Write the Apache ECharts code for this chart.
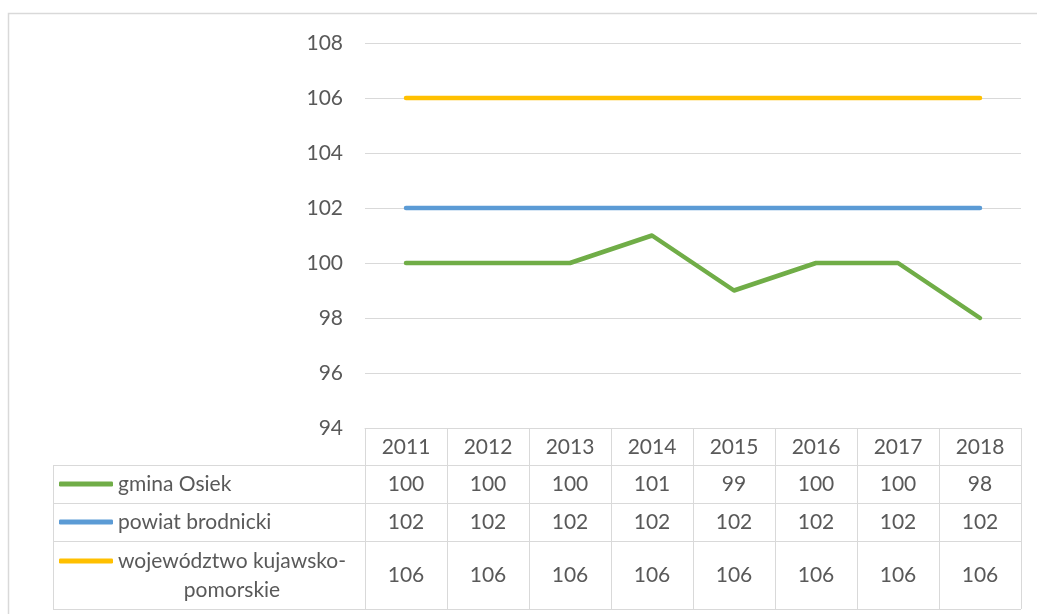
<!DOCTYPE html>
<html>
<head>
<meta charset="utf-8">
<script src="https://cdn.jsdelivr.net/npm/echarts@6/dist/echarts.min.js"></script>
<style>
  html, body { margin: 0; padding: 0; background: #fff; }
  #chart { width: 1037px; height: 614px; }
</style>
</head>
<body>
<div id="chart"></div>
<script>
// dane
const years = ['2011', '2012', '2013', '2014', '2015', '2016', '2017', '2018'];
const gminaOsiek = [100, 100, 100, 101, 99, 100, 100, 98];
const powiatBrodnicki = [102, 102, 102, 102, 102, 102, 102, 102];
const wojewodztwo = [106, 106, 106, 106, 106, 106, 106, 106];
const seriesNames = ['gmina Osiek', 'powiat brodnicki', 'województwo kujawsko-pomorskie'];
const yTicks = { min: 94, max: 108, step: 2 };

const FONT = 'Lato';
const TXT = '#595959';
const LINE = '#d9d9d9';

let chart = echarts.init(document.getElementById('chart'));

// osie pomocnicze = wiersze tabeli danych
function tableRow(values, margin) {
  return {
    type: 'category',
    gridIndex: 0,
    position: 'bottom',
    data: values.map(String),
    axisLine: { show: false },
    axisTick: { show: false },
    axisLabel: {
      margin: margin,
      verticalAlign: 'middle',
      interval: 0,
      color: TXT,
      fontFamily: FONT,
      fontSize: 21
    }
  };
}

chart.setOption({
  animation: false,
  grid: { left: 365, right: 16, top: 43, bottom: 186, containLabel: false },
  legend: [
    {
      data: [seriesNames[0], seriesNames[1]],
      orient: 'vertical',
      left: 59, top: 469.5,
      itemGap: 9,
      icon: 'roundRect',
      itemWidth: 54, itemHeight: 5,
      padding: 0,
      textStyle: { color: TXT, fontFamily: FONT, fontSize: 21, lineHeight: 29 }
    },
    {
      data: [seriesNames[2]],
      orient: 'vertical',
      left: 59, top: 517.5,
      icon: 'roundRect',
      itemWidth: 54, itemHeight: 5,
      padding: 0,
      formatter: function () {
        return '{e| }\n{a|województwo kujawsko-}\n{b|pomorskie}';
      },
      textStyle: {
        color: TXT, fontFamily: FONT, fontSize: 21, lineHeight: 29,
        rich: {
          e: { lineHeight: 29, fontSize: 21 },
          a: { lineHeight: 29, fontSize: 21, color: TXT, fontFamily: FONT },
          b: { lineHeight: 29, fontSize: 21, color: TXT, fontFamily: FONT, align: 'center' }
        }
      }
    }
  ],
  xAxis: [
    {
      type: 'category',
      position: 'bottom',
      data: years,
      boundaryGap: true,
      axisLine: { show: true, lineStyle: { color: LINE, width: 1 } },
      axisTick: { show: true, length: 181, interval: 0, lineStyle: { color: LINE, width: 1 } },
      axisLabel: {
        margin: 19, verticalAlign: 'middle', interval: 0,
        color: TXT, fontFamily: FONT, fontSize: 21
      }
    },
    tableRow(gminaOsiek, 56),
    tableRow(powiatBrodnicki, 94),
    tableRow(wojewodztwo, 147)
  ],
  yAxis: {
    type: 'value',
    min: yTicks.min,
    max: yTicks.max,
    interval: yTicks.step,
    axisLine: { show: false },
    axisTick: { show: false },
    splitLine: { lineStyle: { color: LINE, width: 1 } },
    axisLabel: { margin: 22, color: TXT, fontFamily: FONT, fontSize: 21 }
  },
  series: [
    {
      name: seriesNames[0], type: 'line', data: gminaOsiek,
      symbol: 'none', color: '#70AD47',
      lineStyle: { width: 4.5, color: '#70AD47', cap: 'round', join: 'round' }
    },
    {
      name: seriesNames[1], type: 'line', data: powiatBrodnicki,
      symbol: 'none', color: '#5B9BD5',
      lineStyle: { width: 4.5, color: '#5B9BD5', cap: 'round' }
    },
    {
      name: seriesNames[2], type: 'line', data: wojewodztwo,
      symbol: 'none', color: '#FFC000',
      lineStyle: { width: 4.5, color: '#FFC000', cap: 'round' }
    }
  ],
  graphic: [
    // ramka wykresu
    { type: 'rect', silent: true, shape: { x: 8.5, y: 13.5, width: 1040, height: 620 },
      style: { fill: 'none', stroke: LINE, lineWidth: 1.5 } },
    // linie tabeli
    { type: 'line', silent: true, shape: { x1: 53, y1: 465.5, x2: 1021, y2: 465.5 }, style: { stroke: LINE, lineWidth: 1 } },
    { type: 'line', silent: true, shape: { x1: 53, y1: 503.5, x2: 1021, y2: 503.5 }, style: { stroke: LINE, lineWidth: 1 } },
    { type: 'line', silent: true, shape: { x1: 53, y1: 541.5, x2: 1021, y2: 541.5 }, style: { stroke: LINE, lineWidth: 1 } },
    { type: 'line', silent: true, shape: { x1: 53, y1: 609.5, x2: 1021, y2: 609.5 }, style: { stroke: LINE, lineWidth: 1 } },
    { type: 'line', silent: true, shape: { x1: 53.5, y1: 465, x2: 53.5, y2: 610 }, style: { stroke: LINE, lineWidth: 1 } }
  ]
});
</script>
</body>
</html>
